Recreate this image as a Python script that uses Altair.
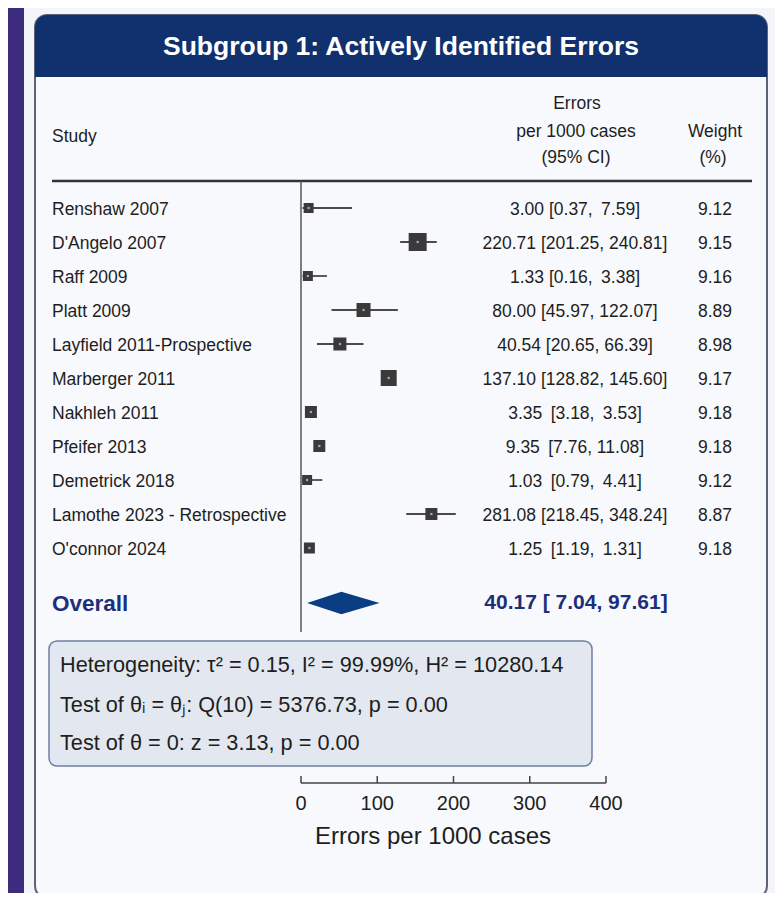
import altair as alt
import pandas as pd

# ---------------- data ----------------
studies = ["Renshaw 2007", "D'Angelo 2007", "Raff 2009", "Platt 2009",
           "Layfield 2011-Prospective", "Marberger 2011", "Nakhleh 2011",
           "Pfeifer 2013", "Demetrick 2018", "Lamothe 2023 - Retrospective",
           "O'connor 2024"]
ci_text = ["3.00 [0.37,\u2009 7.59]", "220.71 [201.25, 240.81]", "1.33 [0.16,\u2009 3.38]",
           "80.00 [45.97, 122.07]", "40.54 [20.65, 66.39]", "137.10 [128.82, 145.60]",
           "3.35\u2009 [3.18,\u2009 3.53]", "9.35\u2009 [7.76, 11.08]", "1.03\u2009 [0.79,\u2009 4.41]",
           "281.08 [218.45, 348.24]", "1.25\u2009 [1.19,\u2009 1.31]"]
weights = ["9.12", "9.15", "9.16", "8.89", "8.98", "9.17", "9.18", "9.18", "9.12", "8.87", "9.18"]
# marker positions as drawn in the picture (errors per 1000 cases)
est = [10, 153, 9, 82, 51, 115, 13, 24, 8, 171, 11]
lo = [2, 130, 2, 40, 21, 109, 13, 24, 3, 138, 11]
hi = [67, 178, 34, 127, 82, 121, 13, 24, 28, 203, 11]
box_side = [10, 18, 10, 14, 13, 16, 12, 12, 10, 12, 11]

overall_label = "Overall"
overall_text = "40.17 [ 7.04, 97.61]"
overall_drawn = {"lo": 8, "est": 53, "hi": 103}

stats_lines = ["Heterogeneity: \u03c4\u00b2 = 0.15, I\u00b2 = 99.99%, H\u00b2 = 10280.14",
               "Test of \u03b8\u1d62 = \u03b8\u2c7c: Q(10) = 5376.73, p = 0.00",
               "Test of \u03b8 = 0: z = 3.13, p = 0.00"]
ticks = [0, 100, 200, 300, 400]

title_text = "Subgroup 1: Actively Identified Errors"
axis_title = "Errors per 1000 cases"

# ---------------- layout ----------------
W, H = 767, 885
FONT = "Liberation Sans, Arial, sans-serif"
TXT = "#1e1e1e"
NAVY = "#10316e"

xscale = alt.Scale(domain=[0, 400], range=[293, 598])
yscale = alt.Scale(domain=[0, 10], range=[200, 540])
OVERALL_ROW = 11.62
HALF_H = 0.33

rows = pd.DataFrame({
    "row": list(range(len(studies))), "study": studies, "ci": ci_text, "w": weights,
    "est": est, "lo": lo, "hi": hi, "area": [s * s for s in box_side],
})
one = alt.Data(values=[{"a": 1}])


def rect(x, x2, y, y2, **kw):
    return alt.Chart(one).mark_rect(**kw).encode(
        x=alt.value(x), x2=alt.value(x2), y=alt.value(y), y2=alt.value(y2))


def label(text, x, y, align="left", size=17.5, font=FONT, color=TXT, weight="normal"):
    return alt.Chart(one).mark_text(text=text, align=align, baseline="middle", fontSize=size,
                                    font=font, color=color, fontWeight=weight).encode(
        x=alt.value(x), y=alt.value(y))


layers = []
layers.append(rect(0, 16, 0, H, color="#3d2b7e"))
layers.append(rect(27, 759, 7, 890, fill="#f8f9fc", stroke="#59627a", strokeWidth=2, cornerRadius=12))
layers.append(rect(27, 759, 7, 69, fill=NAVY, cornerRadiusTopLeft=12, cornerRadiusTopRight=12))
layers.append(label(title_text, 393, 39, align="center", size=26.5, color="white", weight="bold"))

# column headers
layers.append(label("Study", 44, 129))
layers.append(label("Errors", 569, 96, align="center"))
layers.append(label("per 1000 cases", 568, 124, align="center"))
layers.append(label("(95% CI)", 568, 150, align="center"))
layers.append(label("Weight", 707, 124, align="center"))
layers.append(label("(%)", 705, 150, align="center"))
layers.append(alt.Chart(one).mark_rule(color="#333333", strokeWidth=2.5).encode(
    x=alt.value(44), x2=alt.value(744), y=alt.value(173)))

# null line
layers.append(alt.Chart(one).mark_rule(color="#555555", strokeWidth=1.5).encode(
    x=alt.X(datum=0, scale=xscale, axis=None), y=alt.value(173), y2=alt.value(624)))

base = alt.Chart(rows)
layers.append(base.mark_rule(color="#4a4a4a", strokeWidth=1.8).encode(
    x=alt.X("lo:Q", scale=xscale, axis=None), x2="hi:Q",
    y=alt.Y("row:Q", scale=yscale, axis=None)))
layers.append(base.mark_square(color="#3a3a3a", opacity=1).encode(
    x=alt.X("est:Q", scale=xscale, axis=None),
    y=alt.Y("row:Q", scale=yscale, axis=None),
    size=alt.Size("area:Q", scale=None, legend=None)))
layers.append(base.mark_square(color="#a8a8a8", opacity=1, size=5).encode(
    x=alt.X("est:Q", scale=xscale, axis=None),
    y=alt.Y("row:Q", scale=yscale, axis=None)))
layers.append(base.mark_text(align="left", baseline="middle", fontSize=17.5, font=FONT, color=TXT, dy=2).encode(
    x=alt.value(44), y=alt.Y("row:Q", scale=yscale, axis=None), text="study:N"))
layers.append(base.mark_text(align="center", baseline="middle", fontSize=17.5, font=FONT, color=TXT, dy=2).encode(
    x=alt.value(567), y=alt.Y("row:Q", scale=yscale, axis=None), text="ci:N"))
layers.append(base.mark_text(align="center", baseline="middle", fontSize=17.5, font=FONT, color=TXT, dy=2).encode(
    x=alt.value(707), y=alt.Y("row:Q", scale=yscale, axis=None), text="w:N"))

# overall diamond
dia = pd.DataFrame({
    "x": [overall_drawn["lo"], overall_drawn["est"], overall_drawn["hi"]],
    "y": [OVERALL_ROW, OVERALL_ROW - HALF_H, OVERALL_ROW],
    "y2": [OVERALL_ROW, OVERALL_ROW + HALF_H, OVERALL_ROW],
})
layers.append(alt.Chart(dia).mark_area(color="#0b3d82", orient="vertical", opacity=1).encode(
    x=alt.X("x:Q", scale=xscale, axis=None),
    y=alt.Y("y:Q", scale=yscale, axis=None), y2="y2:Q"))
layers.append(label(overall_label, 44, 596, size=22.5, color="#1b2f7a", weight="bold"))
layers.append(label(overall_text, 568, 595, align="center", size=21, color="#1b2f7a", weight="bold"))

# stats box
layers.append(rect(41, 584, 633, 758, fill="#e3e8f0", stroke="#6d7fa3", strokeWidth=1.5, cornerRadius=8))
for t, yy in zip(stats_lines, [657, 697, 735]):
    layers.append(label(t, 52, yy, size=21.7))

# axis
layers.append(alt.Chart(one).mark_rule(color="#444444", strokeWidth=1.5).encode(
    x=alt.X(datum=0, scale=xscale, axis=None), x2=alt.X2(datum=400), y=alt.value(775)))
tk = pd.DataFrame({"t": ticks, "lab": [str(t) for t in ticks]})
layers.append(alt.Chart(tk).mark_rule(color="#444444", strokeWidth=1.5).encode(
    x=alt.X("t:Q", scale=xscale, axis=None), y=alt.value(768), y2=alt.value(775)))
layers.append(alt.Chart(tk).mark_text(fontSize=20, font=FONT, color=TXT, baseline="middle").encode(
    x=alt.X("t:Q", scale=xscale, axis=None), y=alt.value(796), text="lab:N"))
layers.append(label(axis_title, 425, 829, align="center", size=24))

chart = alt.layer(*layers).properties(
    width=W, height=H, background="#f4f5f9", padding=0,
    autosize=alt.AutoSizeParams(type="none"),
).configure_view(stroke=None)

chart.save("out.html", embed_options={"renderer": "svg", "actions": False})
